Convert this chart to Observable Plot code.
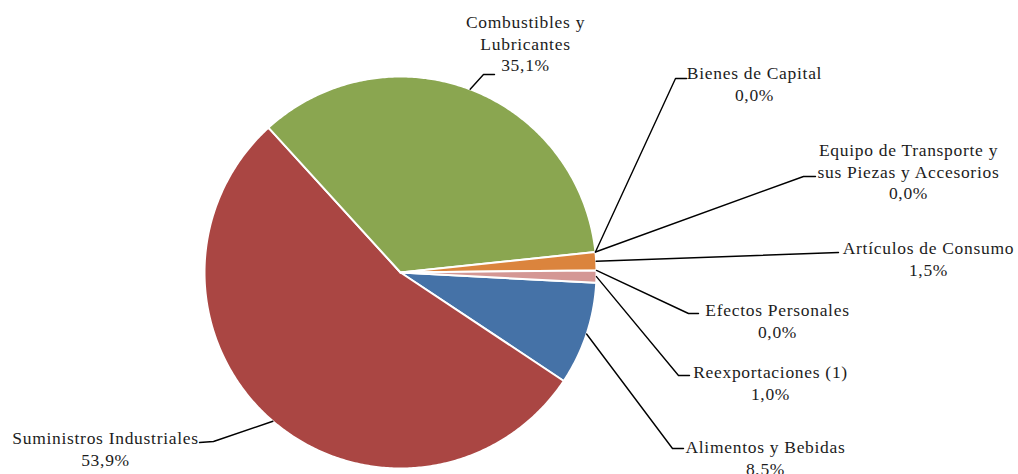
<!DOCTYPE html>
<html><head><meta charset="utf-8">
<script src="https://cdn.jsdelivr.net/npm/d3@7"></script>
<script src="https://cdn.jsdelivr.net/npm/@observablehq/plot@0.6"></script>
<style>html,body{margin:0;padding:0;background:#fff} #chart svg{display:block}</style>
</head><body><div id="chart"></div>
<script>
// ---- data ----
const categories = ["Alimentos y Bebidas","Suministros Industriales","Combustibles y Lubricantes","Bienes de Capital","Equipo de Transporte y sus Piezas y Accesorios","Artículos de Consumo","Efectos Personales","Reexportaciones (1)"];
const labelLines = [["Alimentos y Bebidas"],["Suministros Industriales"],["Combustibles y","Lubricantes"],["Bienes de Capital"],["Equipo de Transporte y","sus Piezas y Accesorios"],["Artículos de Consumo"],["Efectos Personales"],["Reexportaciones (1)"]];
const shares = [8.5, 53.9, 35.1, 0.0, 0.0, 1.5, 0.0, 1.0];

// ---- style / layout ----
const colors = ["#4572A7","#AA4643","#8AA650","#80699B","#3D96AE","#DB843D","#92A8CD","#D49794"];
const W = 1018, H = 474;
const cx = 400, cy = 272, R = 196, startDeg = 93;
// label block centre (first line) and leader elbow/end for each category
const labelLayout = [
  {tx: 765, ty: 447, elbow: [672, 448], end: [683, 448]},
  {tx: 105, ty: 438, elbow: [213, 441], end: [199, 442]},
  {tx: 525, ty: 22,  elbow: [483, 74],  end: [494, 74]},
  {tx: 754, ty: 73,  elbow: [675, 78],  end: [686, 78]},
  {tx: 908, ty: 150, elbow: [803, 176], end: [815, 176]},
  {tx: 928, ty: 248, elbow: null,       end: [838, 252]},
  {tx: 777, ty: 310, elbow: [688, 313], end: [698, 313]},
  {tx: 770, ty: 372, elbow: [678, 375], end: [689, 375]}
];
const lineH = 21.5;
const fontFamily = "'Liberation Serif', 'DejaVu Serif', serif";

const fmt = v => d3.format(".1f")(v).replace(".", ",") + "%";
const rows = categories.map((name, i) => ({name, value: shares[i], i}));
const arcs = d3.pie().value(d => d.value).sort(null)
  .startAngle(startDeg * Math.PI / 180)
  .endAngle(startDeg * Math.PI / 180 + 2 * Math.PI)(rows);

const pt = (a, r) => ({x: cx + r * Math.sin(a), y: cy - r * Math.cos(a)});

const slicePts = [];
arcs.forEach(a => {
  if (a.endAngle - a.startAngle <= 0) return;
  const n = Math.max(2, Math.ceil((a.endAngle - a.startAngle) / 0.01));
  slicePts.push({name: a.data.name, ...pt(0, 0)});
  for (let k = 0; k <= n; k++) {
    const ang = a.startAngle + (a.endAngle - a.startAngle) * k / n;
    slicePts.push({name: a.data.name, ...pt(ang, R)});
  }
});

const leaderPts = [];
const textRows = [];
arcs.forEach((a, i) => {
  const L = labelLayout[i];
  const mid = (a.startAngle + a.endAngle) / 2;
  const s = pt(mid, R);
  leaderPts.push({name: a.data.name, x: s.x, y: s.y});
  if (L.elbow) leaderPts.push({name: a.data.name, x: L.elbow[0], y: L.elbow[1]});
  leaderPts.push({name: a.data.name, x: L.end[0], y: L.end[1]});
  const lines = [...labelLines[i], fmt(a.data.value)];
  lines.forEach((t, k) => textRows.push({text: t, x: L.tx, y: L.ty + k * lineH}));
});

const chart = Plot.plot({
  width: W, height: H,
  margin: 0,
  style: {letterSpacing: "0.7px"},
  x: {domain: [0, W], range: [0, W], axis: null},
  y: {domain: [0, H], range: [0, H], axis: null},
  color: {domain: categories, range: colors},
  marks: [
    Plot.line(slicePts, {x: "x", y: "y", z: "name", fill: "name", stroke: "white", strokeWidth: 2, curve: "linear-closed"}),
    Plot.line(leaderPts, {x: "x", y: "y", z: "name", stroke: "black", strokeWidth: 1.4}),
    Plot.text(textRows, {x: "x", y: "y", text: "text", fontSize: 17.5, fontFamily, fill: "#1c1c1c", textAnchor: "middle"})
  ]
});
document.getElementById("chart").appendChild(chart);
</script>
</body></html>
